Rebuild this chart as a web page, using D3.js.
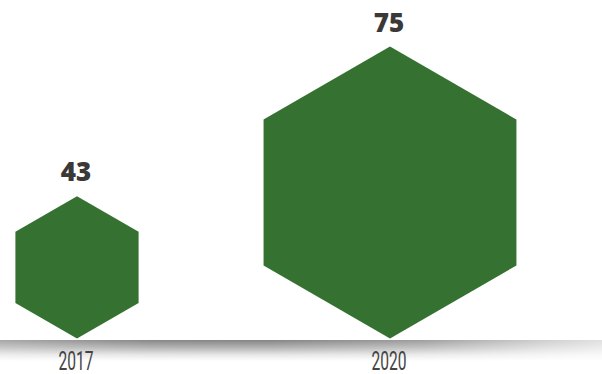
<!DOCTYPE html>
<html><head><meta charset="utf-8">
<script src="https://cdn.jsdelivr.net/npm/d3@7"></script>
<style>html,body{margin:0;padding:0;background:#fff;}svg{display:block;}</style>
</head><body>
<script>
const categories = ["2017", "2020"];
const values = [43, 75];
const valueLabels = ["43", "75"];

const W = 602, H = 374;
const baseY = 338.5;
const svg = d3.select("body").append("svg").attr("width", W).attr("height", H);

const x = d3.scalePoint().domain(categories).range([77, 390]);
// hexagon height (2R) scale
const h = d3.scaleLinear().domain([12.6, 75]).range([0, 292]);

const defs = svg.append("defs");
const vg = defs.append("linearGradient").attr("id", "shadowV")
  .attr("x1", 0).attr("y1", 0).attr("x2", 0).attr("y2", 1);
vg.append("stop").attr("offset", "0%").attr("stop-color", "#858585");
vg.append("stop").attr("offset", "35%").attr("stop-color", "#b2b2b2");
vg.append("stop").attr("offset", "70%").attr("stop-color", "#e6e6e6");
vg.append("stop").attr("offset", "100%").attr("stop-color", "#ffffff");
const hg = defs.append("linearGradient").attr("id", "shadowH")
  .attr("x1", 0).attr("y1", 0).attr("x2", 1).attr("y2", 0);
[[0, 0.28], [0.25, 0.02], [0.45, 0], [0.7, 0.2], [0.9, 0.6], [1, 0.75]].forEach(([o, a]) =>
  hg.append("stop").attr("offset", o).attr("stop-color", "#fff").attr("stop-opacity", a));

svg.append("rect").attr("x", 0).attr("y", 340).attr("width", W).attr("height", 21)
  .attr("fill", "url(#shadowV)");
svg.append("rect").attr("x", 0).attr("y", 340).attr("width", W).attr("height", 21)
  .attr("fill", "url(#shadowH)");

function hexPath(cx, R) {
  const cy = baseY - R;
  const pts = d3.range(6).map(i => {
    const a = Math.PI / 3 * i - Math.PI / 2;
    return [cx + R * Math.cos(a), cy + R * Math.sin(a)];
  });
  return "M" + pts.map(p => p.join(",")).join("L") + "Z";
}

svg.selectAll("path.hex").data(values).join("path").attr("class", "hex")
  .attr("d", (d, i) => hexPath(x(categories[i]), h(d) / 2))
  .attr("fill", "#357231");

svg.selectAll("text.val").data(values).join("text").attr("class", "val")
  .attr("x", (d, i) => x(categories[i]) - 1)
  .attr("y", d => baseY - h(d) - 15)
  .attr("text-anchor", "middle")
  .attr("font-family", "'Open Sans', sans-serif").attr("font-weight", 800)
  .attr("font-size", 26).attr("fill", "#3b3838")
  .text((d, i) => valueLabels[i]);

svg.selectAll("text.cat").data(categories).join("text").attr("class", "cat")
  .attr("x", d => x(d) - 1)
  .attr("y", 369.5)
  .attr("text-anchor", "middle")
  .attr("font-family", "Roboto, sans-serif").attr("font-weight", 400)
  .attr("font-size", 25).attr("fill", "#444")
  .attr("textLength", 35).attr("lengthAdjust", "spacingAndGlyphs")
  .text(d => d);
</script>
</body></html>
